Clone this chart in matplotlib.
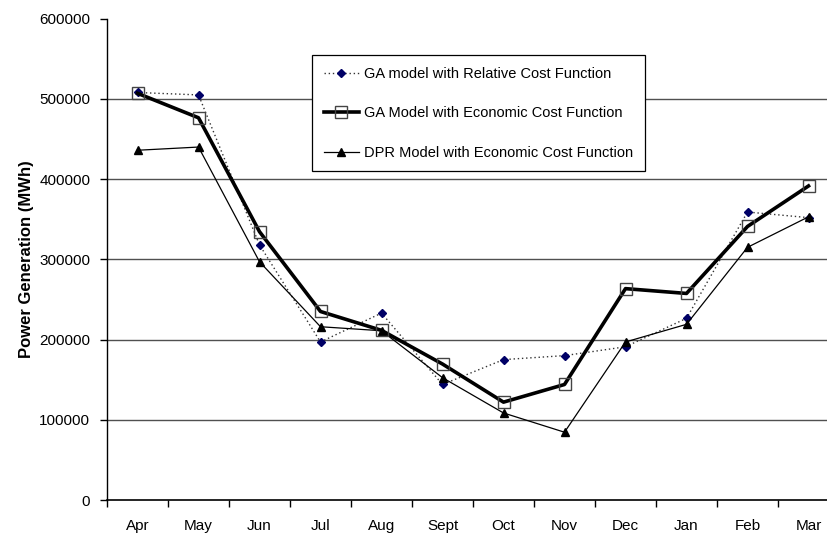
import numpy as np
import matplotlib
matplotlib.use('Agg')
import matplotlib.pyplot as plt
from matplotlib.ticker import FixedLocator

plt.rcParams['font.family'] = ['Liberation Sans', 'DejaVu Sans']

months = ['Apr', 'May', 'Jun', 'Jul', 'Aug', 'Sept', 'Oct', 'Nov', 'Dec', 'Jan', 'Feb', 'Mar']

# values (MWh)
ga_relative = [508000, 505000, 318000, 197000, 233000, 144000, 175000, 180000, 191000, 226500, 359000, 352000]
ga_economic = [507000, 476500, 334500, 235000, 211500, 169500, 122000, 144000, 263500, 257500, 341000, 391500]
dpr_economic = [436000, 440000, 297000, 216000, 211000, 152500, 108500, 84500, 197000, 219000, 315000, 353000]

labels = ['GA model with Relative Cost Function',
          'GA Model with Economic Cost Function',
          'DPR Model with Economic Cost Function']

fig = plt.figure(figsize=(8.27, 5.34), dpi=100)
# the plot area runs past the right edge of the picture, as in the original
ax = fig.add_axes([107 / 827, 1 - 500 / 534, 732 / 827, 481.3 / 534])

x = np.arange(len(months))

ax.plot(x, ga_relative, linestyle=(0, (1, 2)), color='#333333', linewidth=1.0,
        marker='D', markersize=4, markerfacecolor='#000066', markeredgecolor='#000066',
        label=labels[0], zorder=3)
ax.plot(x, ga_economic, linestyle='-', color='black', linewidth=2.6,
        marker='s', markersize=9, markerfacecolor='none', markeredgecolor='#444444',
        markeredgewidth=1.0, label=labels[1], zorder=4)
ax.plot(x, dpr_economic, linestyle='-', color='black', linewidth=0.9,
        marker='^', markersize=5.5, markerfacecolor='black', markeredgecolor='black',
        label=labels[2], zorder=3)

ax.set_xlim(-0.5, len(months) - 0.5)
ax.set_ylim(0, 600000)
ax.set_yticks(np.arange(0, 600001, 100000))
ax.set_yticklabels([str(v) for v in range(0, 600001, 100000)])

ax.set_xticks(x)
ax.set_xticklabels(months)
ax.xaxis.set_minor_locator(FixedLocator(np.arange(-0.5, len(months), 1.0)))
ax.tick_params(axis='x', which='major', length=0, pad=14, labelsize=11)
ax.tick_params(axis='x', which='minor', length=5, width=1, direction='out', color='black')
ax.tick_params(axis='y', length=5, width=1, direction='out', pad=7, labelsize=11)

# horizontal grid lines (none at the top)
for v in range(100000, 600000, 100000):
    ax.axhline(v, color='#505050', linewidth=1.0, zorder=1)

for side in ['top', 'right']:
    ax.spines[side].set_visible(False)
ax.spines['left'].set_linewidth(1.0)
ax.spines['bottom'].set_linewidth(1.2)

ax.set_ylabel('Power Generation (MWh)', fontsize=12, fontweight='bold')
ax.yaxis.set_label_coords(34 / 827, 1 - 259 / 534, transform=fig.transFigure)

leg = ax.legend(loc='upper left', bbox_to_anchor=(312 / 827, 1 - 55 / 534),
                bbox_transform=fig.transFigure, fontsize=10.5, frameon=True,
                fancybox=False, edgecolor='black', framealpha=1, numpoints=1,
                labelspacing=1.75, handlelength=2.4, handletextpad=0.35,
                borderpad=0.8, borderaxespad=0)
leg.get_frame().set_linewidth(0.9)

fig.savefig('out.png', dpi=100)
